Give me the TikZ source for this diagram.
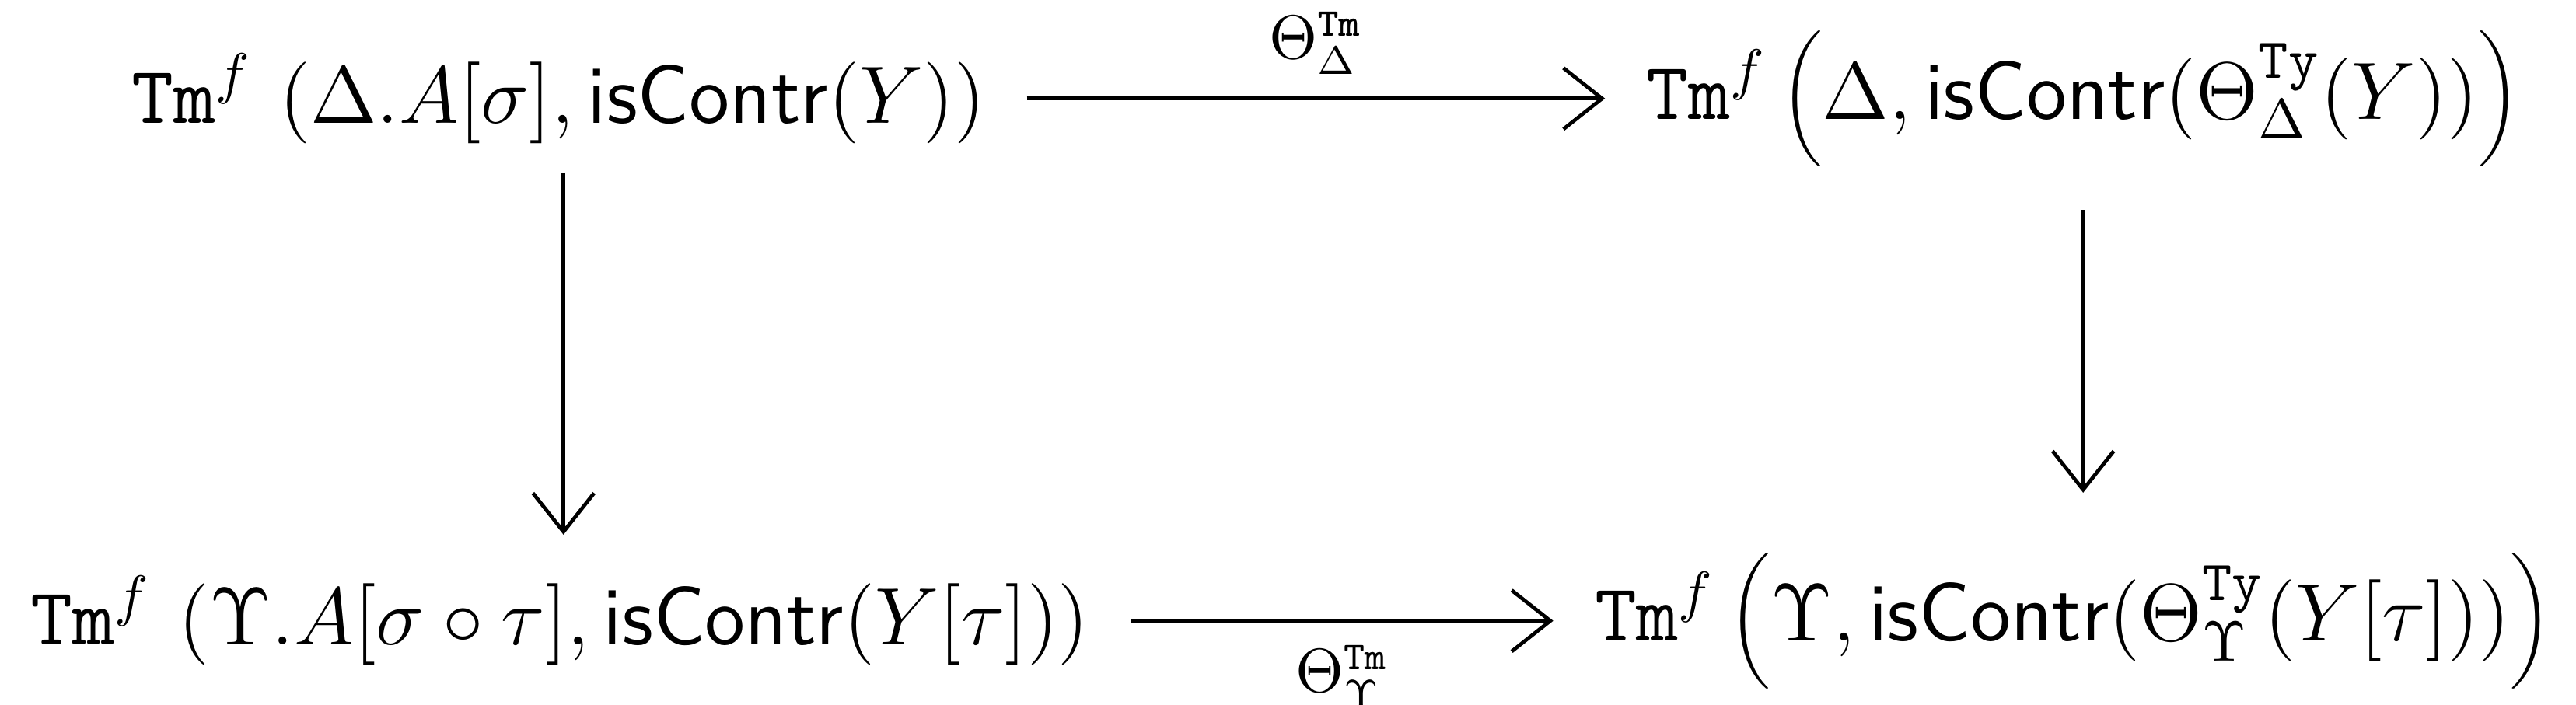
\documentclass[tikz,border=0pt]{standalone}
\usetikzlibrary{arrows.meta}
\newcommand{\tmf}{\mathtt{Tm}^{f}}
\newcommand{\isc}{\textsf{isContr}}
\begin{document}
\begin{tikzpicture}[x=0.0102cm,y=-0.0102cm,
  obj/.style={inner sep=0.25cm,font=\fontsize{14.6}{17}\selectfont},
  arr/.style={-{Straight Barb[length=2.4mm,width=3.8mm]},line width=0.65pt},
  lab/.style={font=\fontsize{10.5}{12}\selectfont,inner sep=1pt}]
\useasboundingbox (0,0) rectangle (1568,429);
\node[obj] (tl) at (340,60) {$\tmf\ (\Delta.A[\sigma],\isc(Y))$};
\node[obj] (tr) at (1268,60) {$\tmf\,\biggl(\Delta,\isc(\Theta^{\mathtt{Ty}}_{\Delta}(Y))\biggr)$};
\node[obj] (bl) at (341,378) {$\tmf\ (\Upsilon.A[\sigma\circ\tau],\isc(Y[\tau]))$};
\node[obj] (br) at (1262,378) {$\tmf\,\biggl(\Upsilon,\isc(\Theta^{\mathtt{Ty}}_{\Upsilon}(Y[\tau]))\biggr)$};
\draw[arr] (tl) -- node[lab,above=3pt]{$\Theta^{\mathtt{Tm}}_{\Delta}$} (tr);
\draw[arr] (bl) -- node[lab,below=3pt]{$\Theta^{\mathtt{Tm}}_{\Upsilon}$} (br);
\draw[arr] (343,105) -- (bl.north -| 343,0);
\draw[arr] (1268,128) -- (1268,300);
\end{tikzpicture}
\end{document}
